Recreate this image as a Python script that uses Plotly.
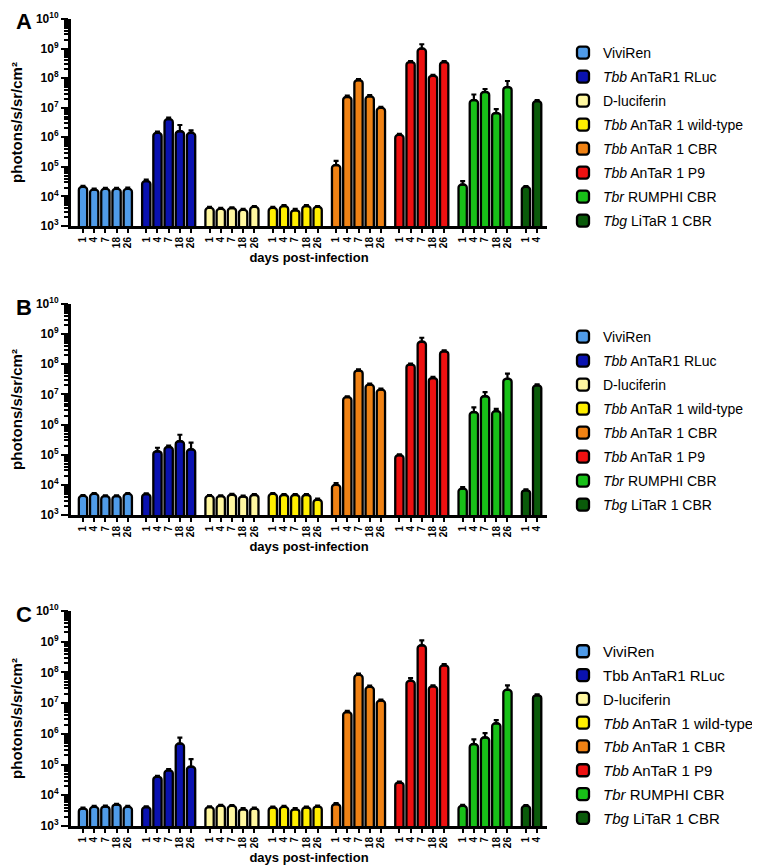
import plotly.graph_objects as go

W, H = 760, 867

# ---------------- data ----------------
days_full = [1, 4, 7, 18, 26]
days_short = [1, 4]
series_days = [days_full] * 7 + [days_short]

names_AB = ["ViviRen", "<i>Tbb</i> AnTaR1 RLuc", "D-luciferin",
            "<i>Tbb</i> AnTaR 1 wild-type", "<i>Tbb</i> AnTaR 1 CBR",
            "<i>Tbb</i> AnTaR 1 P9", "<i>Tbr</i> RUMPHI CBR", "<i>Tbg</i> LiTaR 1 CBR"]
names_C = ["ViviRen", "Tbb AnTaR1 RLuc", "D-luciferin",
           "<i>Tbb</i> AnTaR 1 wild-type", "<i>Tbb</i> AnTaR 1 CBR",
           "<i>Tbb</i> AnTaR 1 P9", "<i>Tbr</i> RUMPHI CBR", "<i>Tbg</i> LiTaR 1 CBR"]

colors = ["#4f9be8", "#0a12b0", "#fff7a0", "#ffee00",
          "#f08214", "#ee1111", "#18c018", "#0a5a0a"]

A_values = [
    [2.1e4, 1.7e4, 1.8e4, 1.8e4, 1.8e4],
    [3.3e4, 1.4e6, 4.1e6, 1.6e6, 1.4e6],
    [4.1e3, 3.8e3, 4.0e3, 3.5e3, 4.4e3],
    [4.1e3, 4.7e3, 3.4e3, 4.7e3, 4.4e3],
    [1.15e5, 2.3e7, 8.5e7, 2.4e7, 9.8e6],
    [1.2e6, 3.5e8, 1.0e9, 1.2e8, 3.5e8],
    [2.5e4, 1.8e7, 3.4e7, 6.6e6, 5.0e7],
    [2.1e4, 1.66e7],
]
A_errors = [
    [2e3, 1.5e3, 1.5e3, 1.5e3, 2e3],
    [4e3, 1.5e5, 5e5, 1.0e6, 3e5],
    [3e2, 3e2, 3e2, 3e2, 3e2],
    [3e2, 4e2, 4e2, 4e2, 3e2],
    [4.5e4, 2.5e6, 8e6, 2.5e6, 8e5],
    [1e5, 3e7, 4e8, 1e7, 3e7],
    [8e3, 1e7, 9e6, 2.3e6, 3e7],
    [1.5e3, 1.5e6],
]

B_values = [
    [4.3e3, 5.0e3, 4.2e3, 4.2e3, 5.0e3],
    [4.9e3, 1.3e5, 1.8e5, 2.8e5, 1.5e5],
    [4.3e3, 4.2e3, 4.7e3, 4.1e3, 4.6e3],
    [5.0e3, 4.6e3, 4.6e3, 4.6e3, 3.2e3],
    [1.0e4, 8.1e6, 6.2e7, 2.1e7, 1.45e7],
    [9.6e4, 9.8e7, 5.6e8, 3.5e7, 2.7e8],
    [7.5e3, 2.6e6, 8.7e6, 2.8e6, 3.3e7],
    [6.6e3, 2.0e7],
]
B_errors = [
    [3e2, 3e2, 3e2, 3e2, 3e2],
    [3e2, 4e4, 2e4, 1.8e5, 1e5],
    [3e2, 3e2, 3e2, 3e2, 3e2],
    [3e2, 3e2, 3e2, 3e2, 3e2],
    [1.5e3, 6e5, 6e6, 2e6, 1.2e6],
    [6e3, 8e6, 2e8, 3e6, 2e7],
    [1e3, 1.1e6, 3.3e6, 5e5, 1.6e7],
    [5e2, 1.5e6],
]

C_values = [
    [3.7e3, 4.2e3, 4.3e3, 5.0e3, 4.2e3],
    [4.1e3, 4.0e4, 6.5e4, 4.8e5, 8.5e4],
    [4.1e3, 4.6e3, 4.5e3, 3.5e3, 3.7e3],
    [4.0e3, 4.2e3, 3.5e3, 4.0e3, 4.3e3],
    [5.1e3, 5.1e6, 8.3e7, 3.4e7, 1.2e7],
    [2.6e4, 5.3e7, 7.6e8, 3.5e7, 1.7e8],
    [4.5e3, 4.6e5, 7.6e5, 2.2e6, 2.7e7],
    [4.5e3, 1.8e7],
]
C_errors = [
    [3e2, 3e2, 3e2, 3e2, 3e2],
    [3e2, 3e3, 6e3, 2.7e5, 6.5e4],
    [3e2, 3e2, 3e2, 3e2, 3e2],
    [3e2, 3e2, 3e2, 3e2, 3e2],
    [5e2, 5e5, 8e6, 3e6, 1e6],
    [2e3, 1.2e7, 3.4e8, 3e6, 1.5e7],
    [4e2, 2e5, 3e5, 6e5, 1.1e7],
    [3e2, 1.5e6],
]

# y tick labels (decades) and minor log ticks (2..9 in each decade)
decade_exps = list(range(3, 11))
decade_vals = [10 ** e for e in decade_exps]
decade_text = [f"10<sup>{e}</sup>" for e in decade_exps]
minor_vals = [m * 10 ** e for e in range(3, 10) for m in range(2, 10)]

panels = [
    dict(label="A", names=names_AB, values=A_values, errors=A_errors,
         top=11, bottom=218, legend_mid=129, legend_font=14, legend_gap=2.8),
    dict(label="B", names=names_AB, values=B_values, errors=B_errors,
         top=296, bottom=507, legend_mid=413, legend_font=14, legend_gap=2.8),
    dict(label="C", names=names_C, values=C_values, errors=C_errors,
         top=603, bottom=818, legend_mid=727, legend_font=15, legend_gap=1.3),
]

GROUP_STEP = 5.65
X_LEFT, X_RIGHT = 63, 539
FONT = "Arial, Liberation Sans, sans-serif"

fig = go.Figure()
annotations = []
layout = {}

for p_i, p in enumerate(panels):
    sfx = "" if p_i == 0 else str(p_i + 1)
    xa, ya = "x" + sfx, "y" + sfx
    leg = "legend" + sfx
    tickvals, ticktext = [], []
    for g, (name, vals, errs, dd) in enumerate(zip(p["names"], p["values"], p["errors"], series_days)):
        xs = [g * GROUP_STEP + i for i in range(len(dd))]
        tickvals += xs
        ticktext += [str(d) for d in dd]
        fig.add_trace(go.Bar(
            x=xs, y=vals, name=name, xaxis=xa, yaxis=ya, legend=leg,
            legendgroup=f"{p['label']}{g}",
            width=0.74,
            marker=dict(color=colors[g], line=dict(color="black", width=2.3), cornerradius=3),
            error_y=dict(type="data", array=errs, arrayminus=[0] * len(errs), symmetric=False,
                         color="black", thickness=2.2, width=2.5),
        ))
    y0 = 1 - p["bottom"] / H
    y1 = 1 - p["top"] / H
    layout["xaxis" + sfx] = dict(
        domain=[X_LEFT / W, X_RIGHT / W], anchor=ya,
        range=[-1.07, 7 * GROUP_STEP + 1 + 0.88],
        tickvals=tickvals, ticktext=ticktext, tickangle=-90,
        ticks="outside", ticklen=4, tickwidth=1.5, tickcolor="black",
        showline=True, linecolor="black", linewidth=3,
        showgrid=False, zeroline=False,
        tickfont=dict(family=FONT, size=10, color="black", weight="bold"),
        title=dict(text="days post-infection", standoff=6,
                   font=dict(family=FONT, size=13, color="black", weight="bold")),
    )
    layout["yaxis" + sfx] = dict(
        domain=[y0, y1], anchor=xa, type="log", range=[3, 10],
        tickmode="array", tickvals=decade_vals, ticktext=decade_text,
        ticks="outside", ticklen=7, tickwidth=2, tickcolor="black",
        minor=dict(ticks="outside", tickmode="array", tickvals=minor_vals,
                   ticklen=4, tickwidth=1.5, tickcolor="black", showgrid=False),
        showline=True, linecolor="black", linewidth=3,
        showgrid=False, zeroline=False, automargin=False,
        tickfont=dict(family=FONT, size=12, color="black", weight="bold"),
        title=dict(text="photons/s/sr/cm²", standoff=10,
                   font=dict(family=FONT, size=15, color="black", weight="bold")),
    )
    layout[leg] = dict(
        x=555 / W, xanchor="left", y=1 - p["legend_mid"] / H, yanchor="middle",
        font=dict(family=FONT, size=p["legend_font"], color="black"),
        tracegroupgap=p["legend_gap"], bgcolor="rgba(0,0,0,0)",
    )
    annotations.append(dict(
        text=p["label"], x=16 / W, y=1 - (p["top"] + 3) / H, xref="paper", yref="paper",
        showarrow=False, font=dict(family=FONT, size=22, color="black", weight="bold"),
        xanchor="center", yanchor="middle",
    ))

fig.update_layout(
    width=W, height=H, margin=dict(l=0, r=0, t=0, b=0, autoexpand=False),
    paper_bgcolor="white", plot_bgcolor="white",
    showlegend=True, barmode="overlay",
    annotations=annotations, **layout,
)

fig.write_html("out.html")
